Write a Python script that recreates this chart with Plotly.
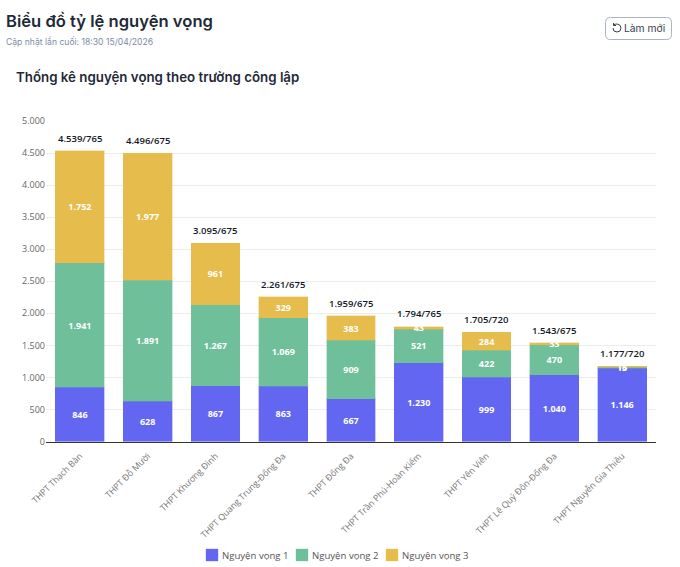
import plotly.graph_objects as go

W, H = 680, 567

schools = [
    "THPT Thạch Bàn", "THPT Đỗ Mười", "THPT Khương Đình",
    "THPT Quang Trung-Đống Đa", "THPT Đống Đa", "THPT Trần Phú-Hoàn Kiếm",
    "THPT Yên Viên", "THPT Lê Quý Đôn-Đống Đa", "THPT Nguyễn Gia Thiều",
]
nv1 = [846, 628, 867, 863, 667, 1230, 999, 1040, 1146]
nv2 = [1941, 1891, 1267, 1069, 909, 521, 422, 470, 13]
nv3 = [1752, 1977, 961, 329, 383, 43, 284, 33, 18]
quota = [765, 675, 675, 675, 675, 765, 720, 675, 720]
y_ticks = [0, 500, 1000, 1500, 2000, 2500, 3000, 3500, 4000, 4500, 5000]

series = [
    ("Nguyện vọng 1", nv1, "#6366f1", "rgba(99,102,241,0.35)"),
    ("Nguyện vọng 2", nv2, "#6fbf9b", "rgba(111,191,155,0.35)"),
    ("Nguyện vọng 3", nv3, "#e6bc4c", "rgba(230,188,76,0.35)"),
]


def dots(n):
    return f"{n:,}".replace(",", ".")


def px(x):
    return x / W


def py(y):
    return 1 - y / H


fig = go.Figure()

for name, values, color, edge in series:
    fig.add_trace(go.Bar(
        x=schools, y=values, name=name,
        marker=dict(color=color, line=dict(color=edge, width=1)),
        text=[dots(v) for v in values],
        textposition="inside",
        insidetextanchor="middle",
        textangle=0,
        constraintext="none",
        textfont=dict(family="Open Sans", size=9, color="white", weight=700),
    ))

totals = [a + b + c for a, b, c in zip(nv1, nv2, nv3)]
for school, total, q in zip(schools, totals, quota):
    fig.add_annotation(
        x=school, y=total, yanchor="bottom", yshift=4, showarrow=False,
        text=f"{dots(total)}/{q}",
        font=dict(family="Open Sans", size=9.5, color="#111827", weight=600),
    )


def label(x, y, text, size, color, weight=400, family="Inter"):
    fig.add_annotation(
        xref="paper", yref="paper", x=px(x), y=py(y), xanchor="left", yanchor="middle",
        showarrow=False, text=text, font=dict(family=family, size=size, color=color, weight=weight),
    )


label(4, 21, "Biểu đồ tỷ lệ nguyện vọng", 16.6, "#1f2937", 600)
label(4, 41.5, "Cập nhật lần cuối: 18:30 15/04/2026", 8.6, "#7b8aa5")
label(14, 77, "Thống kê nguyện vọng theo trường công lập", 13.3, "#1f2937", 600)
label(622, 28, "Làm mới", 10.3, "#374151")

# nut lam moi
x0, x1, y0, y1, r = px(605.5), px(671.5), py(17.5), py(39.5), 5
rx, ry = r / W, r / H
fig.add_shape(
    type="path", xref="paper", yref="paper",
    path=(f"M {x0 + rx} {y0} L {x1 - rx} {y0} Q {x1} {y0} {x1} {y0 - ry} "
          f"L {x1} {y1 + ry} Q {x1} {y1} {x1 - rx} {y1} L {x0 + rx} {y1} "
          f"Q {x0} {y1} {x0} {y1 + ry} L {x0} {y0 - ry} Q {x0} {y0} {x0 + rx} {y0} Z"),
    line=dict(color="#a8b3c4", width=1),
)
fig.add_shape(
    type="path", xref="paper", yref="paper",
    path=(f"M {px(613.5)} {py(25.5)} L {px(614)} {py(24.5)} Q {px(616)} {py(24)} {px(617)} {py(24)} "
          f"Q {px(621)} {py(24.5)} {px(621)} {py(28)} Q {px(621)} {py(32)} {px(617)} {py(32)} "
          f"Q {px(613)} {py(32)} {px(613)} {py(28)} M {px(613.5)} {py(23)} L {px(613.5)} {py(25.5)} L {px(616)} {py(25.5)}"),
    line=dict(color="#374151", width=1),
)

fig.update_layout(
    width=W, height=H,
    barmode="stack", bargap=0.28,
    margin=dict(l=0, r=0, t=0, b=0, autoexpand=False),
    paper_bgcolor="white", plot_bgcolor="white",
    font=dict(family="Open Sans", color="#666666"),
    legend=dict(
        orientation="h", xref="paper", yref="paper", x=px(192), xanchor="left",
        y=py(555), yanchor="middle", font=dict(size=9.6, color="#555555"),
        entrywidth=45, entrywidthmode="pixels", traceorder="normal",
    ),
    xaxis=dict(
        domain=[px(46), px(656)], tickangle=-45, tickfont=dict(size=8.8, color="#777777"),
        ticklabelstandoff=5,
        showgrid=False, showline=True, linecolor="#333333", linewidth=1, ticks="",
    ),
    yaxis=dict(
        domain=[py(441.5), py(121)], range=[0, 5000], tickvals=y_ticks,
        ticktext=[dots(v) for v in y_ticks], tickfont=dict(size=9, color="#666666"),
        gridcolor="#ececec", gridwidth=1, zeroline=False, ticks="", ticklen=0,
    ),
)

# chu trong legend sat lai o mau, plotly mac dinh de khoang cach rong hon
post = """
document.body.style.margin = '0';
document.querySelectorAll('.legendtext').forEach(t => t.setAttribute('x', 30));
document.querySelectorAll('.legend [clip-path], .legend[clip-path]').forEach(e => e.removeAttribute('clip-path'));
"""
fig.write_html("out.html", config=dict(displayModeBar=False), post_script=post)
